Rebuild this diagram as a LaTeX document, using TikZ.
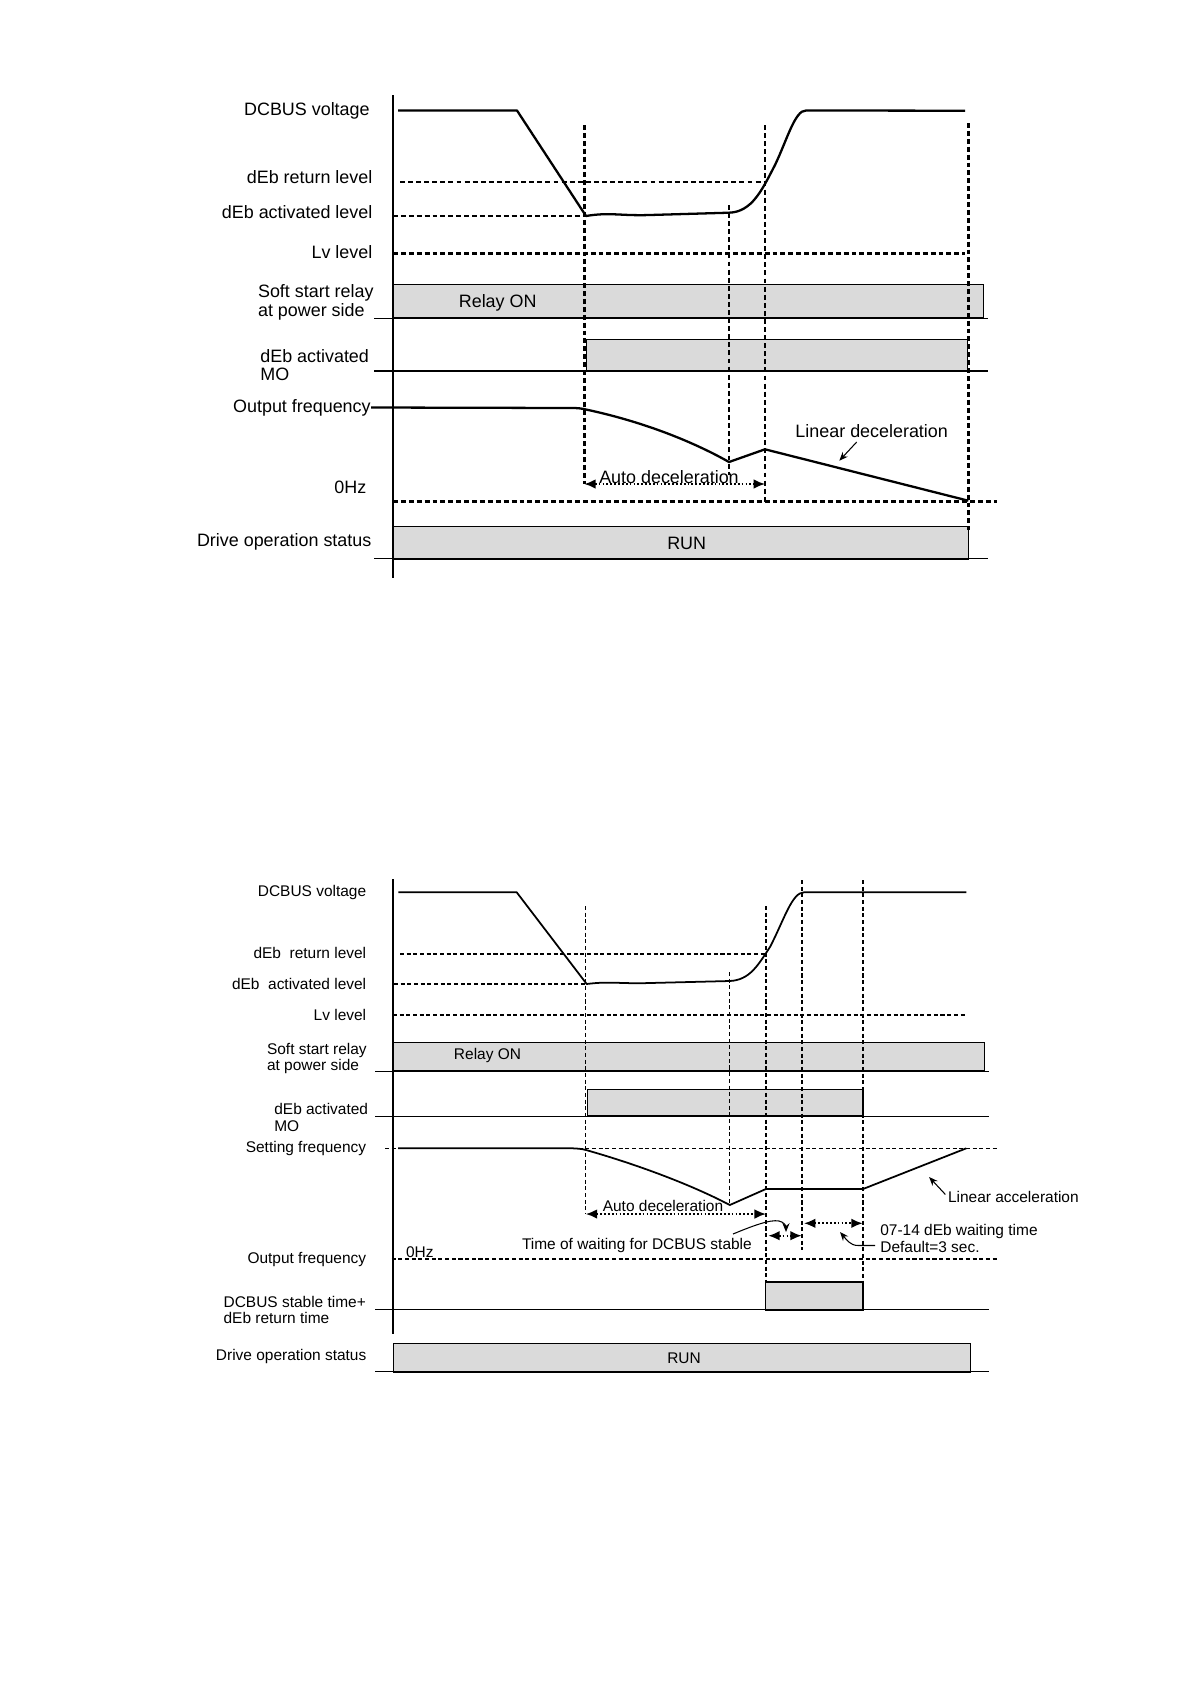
\documentclass[tikz,border=0pt]{standalone}
\usepackage{fontspec}
\setmainfont{Liberation Sans}
\usetikzlibrary{arrows.meta, positioning}
\definecolor{barfill}{RGB}{218,218,218}
\begin{document}
\begin{tikzpicture}[x=0.02cm, y=-0.02cm, >=Stealth,
    lblA/.style={font=\fontsize{10.2}{10.6}\selectfont, inner sep=0pt, align=left},
    lblB/.style={font=\fontsize{8.8}{9.3}\selectfont, inner sep=0pt, align=left},
    axisA/.style={line width=1.4pt},
    axisB/.style={line width=1.1pt},
    sigA/.style={line width=1.3pt, line join=round},
    sigB/.style={line width=1.0pt, line join=round},
    bar/.style={draw, fill=barfill, line width=0.6pt},
    baseln/.style={line width=0.5pt},
    heavydash/.style={line width=1.5pt, dash pattern=on 2.8pt off 1.7pt},
    lightdash/.style={line width=1pt, dash pattern=on 2.8pt off 1.8pt},
    finedash/.style={line width=0.7pt, dash pattern=on 2.3pt off 1.5pt},
    dimarrow/.style={line width=1pt, dash pattern=on 1pt off 1.2pt,
      {Latex[length=6.5pt,width=5.5pt]}-{Latex[length=6.5pt,width=5.5pt]}},
    ptr/.style={line width=0.6pt, -{Stealth[length=5pt,width=4pt]}}]
    \useasboundingbox (0,0) rectangle (1190,1684);

    % upper chart
    \node[lblA, anchor=east] (dcbusA) at (370,111) {DCBUS voltage};
    \node[lblA, anchor=east] (retA) at (372.7,177) {dEb return level};
    \node[lblA, anchor=east] (actA) at (372.7,212) {dEb activated level};
    \node[lblA, anchor=east] (lvA) at (372.7,251.7) {Lv level};
    \node[lblA, anchor=west] (relayA) at (257.7,302.4) {Soft start relay\\at power side};
    \node[lblA, anchor=west, font=\fontsize{10.2}{10.3}\selectfont] (moA) at (260,365) {dEb activated\\MO};
    \node[lblA, anchor=east] (outA) at (371,407.5) {Output frequency};
    \node[lblA, anchor=west] (zeroA) at (334,487.3) {0Hz};
    \node[lblA, anchor=east] (statA) at (371.7,542.3) {Drive operation status};

    \draw[bar] (393,284.3) rectangle (983.3,318);
    \draw[baseln] (374,318) -- (987.7,318);
    \draw[bar] (586.7,339.3) rectangle (967.3,370.7);
    \draw[line width=1.1pt] (374,370.7) -- (987.7,370.7);
    \draw[bar] (393,526.7) rectangle (968.3,559);
    \draw[baseln] (374,558.5) -- (987.7,558.5);
    \node[lblA] (relayonA) at (497.7,303.3) {Relay ON};
    \node[lblA] (runA) at (686.7,543.3) {RUN};

    \draw[lightdash] (400,181.7) -- (765,181.7);
    \draw[heavydash] (393,216) -- (586,216);
    \draw[heavydash] (393,253.3) -- (965,253.3);
    \draw[heavydash] (393,501.7) -- (996.7,501.7);

    \draw[heavydash] (584.3,125) -- (584.3,484);
    \draw[lightdash] (729,205) -- (729,475);
    \draw[lightdash] (765,125) -- (765,501.7);
    \draw[heavydash] (968.7,123) -- (968.7,530);

    \draw[axisA] (393,95) -- (393,578);
    \draw[sigA] (398,110.5) -- (517,110.5) -- (586,216)
      .. controls (610,212) and (620,216) .. (650,215) -- (729,212.7)
      .. controls (752,212) and (762,190) .. (775,165)
      .. controls (787,140) and (795,110) .. (806,110.5) -- (965,110.7);
    \draw[sigA] (outA.east) -- (572,408) .. controls (578,408) and (582,408.5) .. (586,409.5)
      .. controls (640,421) and (690,440) .. (729,462) -- (765,449.3) -- (968.3,500.7);

    \node[lblA] (autodecA) at (669,477.3) {Auto deceleration};
    \coordinate (adAl) at (584.3,484);
    \coordinate (adAr) at (765,484);
    \draw[dimarrow] (adAl) -- (adAr);
    \node[lblA] (lindecA) at (871.7,430.7) {Linear deceleration};
    \coordinate (lindecS) at (856.7,442);
    \coordinate (lindecT) at (839.3,460.7);
    \draw[ptr] (lindecS) -- (lindecT);

    % lower chart
    \node[lblB, anchor=east] (dcbusB) at (366.5,892) {DCBUS voltage};
    \node[lblB, anchor=east] (retB) at (366.5,953) {dEb~ return level};
    \node[lblB, anchor=east] (actB) at (366.5,983.5) {dEb~ activated level};
    \node[lblB, anchor=east] (lvB) at (366.5,1014.5) {Lv level};
    \node[lblB, anchor=west, font=\fontsize{8.8}{8.9}\selectfont] (relayB) at (266.7,1058.2) {Soft start relay\\at power side};
    \node[lblB, anchor=west, font=\fontsize{8.8}{9.5}\selectfont] (moB) at (274,1117.7) {dEb activated\\MO};
    \node[lblB, anchor=east] (setB) at (366.5,1148) {Setting frequency};
    \node[lblB, anchor=east] (outB) at (366.5,1259) {Output frequency};
    \node[lblB, anchor=west] (zeroB) at (405.7,1251.7) {0Hz};
    \node[lblB, anchor=west, font=\fontsize{8.8}{9.4}\selectfont] (stableB) at (223.3,1310) {DCBUS stable time+\\dEb return time};
    \node[lblB, anchor=east] (statB) at (366.7,1356.7) {Drive operation status};

    \draw[bar] (393.3,1042.3) rectangle (984.2,1071);
    \draw[baseln] (375,1071) -- (989,1071);
    \draw[bar] (587.5,1089.3) rectangle (863,1116);
    \draw[baseln] (375,1116) -- (989,1116);
    \draw[bar] (765.9,1282) rectangle (863,1310);
    \draw[baseln] (375,1309.5) -- (989,1309.5);
    \draw[bar] (393.3,1343.3) rectangle (970.5,1372.3);
    \draw[baseln] (375,1371.8) -- (989,1371.8);
    \node[lblB] (relayonB) at (487.5,1055.7) {Relay ON};
    \node[lblB] (runB) at (684,1358) {RUN};

    \draw[finedash] (400,954) -- (765.9,954);
    \draw[finedash] (394,984) -- (586.7,984);
    \draw[finedash] (393,1015) -- (966.3,1015);
    \draw[finedash] (385,1148.3) -- (997.3,1148.3);
    \draw[finedash] (391.7,1259) -- (997.3,1259);

    \draw[finedash] (585.8,906) -- (585.8,1214);
    \draw[finedash] (729.8,972) -- (729.8,1205);
    \draw[finedash] (765.9,906) -- (765.9,1282);
    \draw[finedash] (802.1,880) -- (802.1,1250);
    \draw[finedash] (863,880) -- (863,1292);

    \draw[axisB] (393.3,879.3) -- (393.3,1334.3);
    \draw[sigB] (398.3,892.3) -- (516.7,892.3) -- (586.7,984)
      .. controls (610,981) and (620,984) .. (650,983) -- (729.8,981)
      .. controls (750,980) and (758,965) .. (770,947)
      .. controls (784,920) and (792,892.3) .. (804,892.3) -- (966.3,892.3);
    \draw[sigB] (398,1148.3) -- (570,1148.3) .. controls (578,1148.3) and (582,1149) .. (586,1150)
      .. controls (632,1163) and (688,1183) .. (729.8,1205) -- (765.9,1189) -- (863,1189) -- (966.3,1148.3);

    \node[lblB] (autodecB) at (663,1206) {Auto deceleration};
    \coordinate (adBl) at (585.8,1214);
    \coordinate (adBr) at (765.9,1214);
    \draw[dimarrow] (adBl) -- (adBr);
    \coordinate (stabl) at (768.3,1235.7);
    \coordinate (stabr) at (801.7,1235.7);
    \draw[dimarrow] (stabl) -- (stabr);
    \coordinate (dwl) at (804,1223.3);
    \coordinate (dwr) at (862.7,1223.3);
    \draw[dimarrow] (dwl) -- (dwr);

    \node[lblB, anchor=west] (waitB) at (521.7,1245.8) {Time of waiting for DCBUS stable};
    \coordinate (waitS) at (733,1234);
    \coordinate (waitT) at (786,1232);
    \draw[ptr] (waitS) .. controls (750,1227) and (770,1219) .. (779,1221)
      .. controls (784,1222) and (786,1226) .. (waitT);
    \node[lblB, anchor=west] (dwaitB) at (880,1238.5) {07-14 dEb waiting time\\Default=3 sec.};
    \coordinate (dwaitS) at (875,1245.5);
    \coordinate (dwaitT) at (840,1232);
    \draw[ptr] (dwaitS) -- (858,1245.5) .. controls (850,1245.5) and (846,1239) .. (dwaitT);
    \node[lblB] (linaccB) at (1013.4,1197) {Linear acceleration};
    \coordinate (linaccT) at (929.1,1177);
    \draw[ptr, shorten <=2pt] (linaccB.west) -- (linaccT);
\end{tikzpicture}
\end{document}
